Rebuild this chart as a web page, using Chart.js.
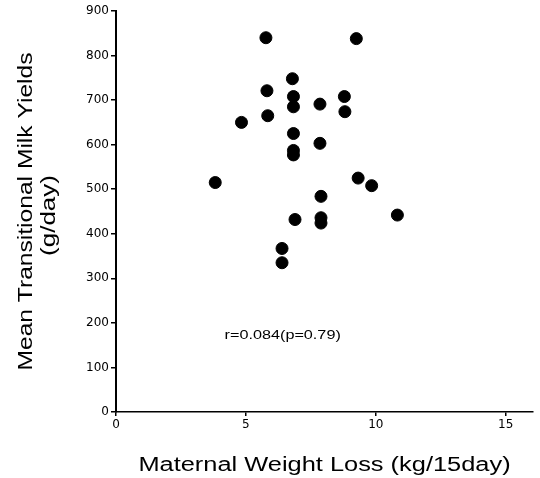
<!DOCTYPE html>
<html>
<head>
<meta charset="utf-8">
<script src="https://cdn.jsdelivr.net/npm/chart.js@4/dist/chart.umd.min.js"></script>
<style>
  html, body { margin: 0; padding: 0; background: #fff; }
  #wrap { width: 540px; height: 478px; }
</style>
</head>
<body>
<div id="wrap"><canvas id="scatter"></canvas></div>
<script>
// weight loss (kg/15day) and milk yield (g/day)
const weightLoss = [3.82, 4.83, 5.77, 5.81, 5.84, 6.79, 6.83, 6.83, 6.83, 6.83, 6.83, 6.89, 6.39, 6.39,
  7.85, 7.85, 7.89, 7.89, 7.89, 8.79, 8.81, 9.25, 9.32, 9.84, 10.83];
const milkYield = [515, 650, 840, 721, 665, 748, 708, 685, 625, 587, 577, 432, 367, 335,
  691, 603, 484, 436, 424, 708, 674, 838, 525, 508, 442];
const xTicks = [0, 5, 10, 15];
const yTicks = [0, 100, 200, 300, 400, 500, 600, 700, 800, 900];
const xTitle = "Maternal Weight Loss (kg/15day)";
const yTitle = ["Mean Transitional Milk Yields", "(g/day)"];
const noteText = "r=0.084(p=0.79)";
const notePos = { x: 4.18, y: 172 };

const points = weightLoss.map(function (w, i) {
  return { x: w, y: milkYield[i] };
});

const FONT = "'Liberation Sans', Arial, sans-serif";

// the original typeface is a wide one, so text is drawn stretched sideways
function wideText(ctx, text, x, y, angle, sx, font, align) {
  ctx.save();
  ctx.translate(x, y);
  ctx.rotate(angle);
  ctx.scale(sx, 1);
  ctx.font = font;
  ctx.fillStyle = "#000";
  ctx.textAlign = align;
  ctx.textBaseline = "alphabetic";
  ctx.fillText(text, 0, 0);
  ctx.restore();
}

const textPlugin = {
  id: "texts",
  afterDraw(chart) {
    const ctx = chart.ctx;
    const area = chart.chartArea;
    const midX = (area.left + area.right) / 2;
    const midY = (area.top + area.bottom) / 2;

    wideText(ctx, xTitle, midX, 471, 0, 1.27, "20px " + FONT, "center");
    wideText(ctx, yTitle[0], 32, midY, -Math.PI / 2, 1.23, "20px " + FONT, "center");
    wideText(ctx, yTitle[1], 55, midY + 4, -Math.PI / 2, 1.3, "20px " + FONT, "center");

    const nx = chart.scales.x.getPixelForValue(notePos.x);
    const ny = chart.scales.y.getPixelForValue(notePos.y);
    wideText(ctx, noteText, nx, ny + 4, 0, 1.35, "12px " + FONT, "left");
  },
};

new Chart(document.getElementById("scatter"), {
  type: "scatter",
  data: {
    datasets: [
      {
        data: points,
        backgroundColor: "#000",
        borderColor: "#000",
        pointRadius: 6,
        pointHoverRadius: 6,
      },
    ],
  },
  options: {
    responsive: true,
    maintainAspectRatio: false,
    animation: false,
    layout: { padding: { top: 11, right: 5, left: 0, bottom: 0 } },
    plugins: {
      legend: { display: false },
      tooltip: { enabled: false },
    },
    scales: {
      x: {
        type: "linear",
        min: 0,
        max: 16.05,
        afterBuildTicks: function (scale) {
          scale.ticks = xTicks.map(function (v) { return { value: v }; });
        },
        afterFit: function (scale) {
          scale.height = 66;
        },
        border: { color: "#000", width: 1.5 },
        grid: {
          display: true,
          drawOnChartArea: false,
          drawTicks: true,
          tickLength: 4,
          color: "#000",
          lineWidth: 1.5,
        },
        ticks: {
          color: "#000",
          padding: 2,
          font: { family: "'DejaVu Sans', sans-serif", size: 12 },
        },
      },
      y: {
        type: "linear",
        min: 0,
        max: 900,
        afterBuildTicks: function (scale) {
          scale.ticks = yTicks.map(function (v) { return { value: v }; });
        },
        afterFit: function (scale) {
          scale.width = 116;
        },
        border: { color: "#000", width: 2 },
        grid: {
          display: true,
          drawOnChartArea: false,
          drawTicks: true,
          tickLength: 5,
          color: "#000",
          lineWidth: 1.5,
        },
        ticks: {
          color: "#000",
          padding: 2,
          font: { family: "'DejaVu Sans', sans-serif", size: 12 },
        },
      },
    },
  },
  plugins: [textPlugin],
});
</script>
</body>
</html>
